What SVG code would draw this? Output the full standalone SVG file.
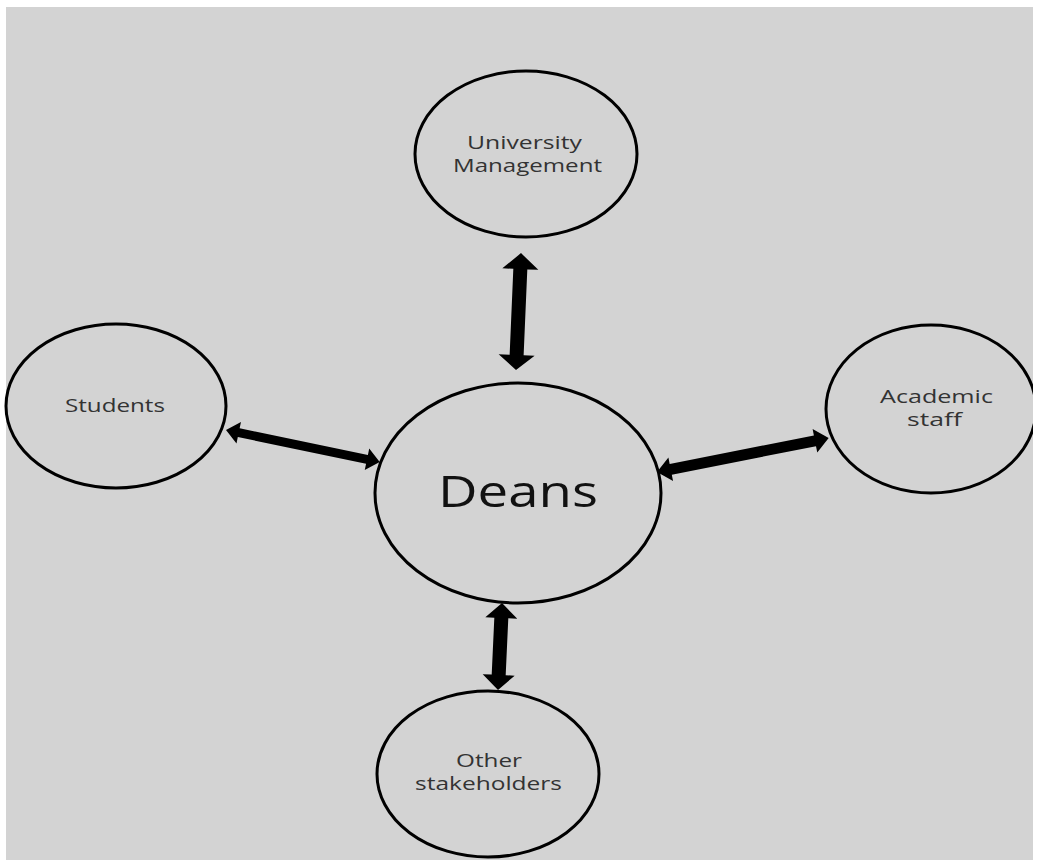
<svg xmlns="http://www.w3.org/2000/svg" width="1039" height="860" viewBox="0 0 1039 860">
  <style>
    .node ellipse { fill: none; stroke: #000; stroke-width: 3; }
    .lbl { font-family: "Open Sans", "Liberation Sans", sans-serif; font-size: 18px; fill: #333; }
    .big { font-family: "Open Sans", "Liberation Sans", sans-serif; font-size: 43px; fill: #111; }
    .arrow { fill: #000; }
  </style>
  <defs>
    <clipPath id="page">
      <rect x="6" y="7" width="1027" height="853"/>
    </clipPath>
  </defs>
  <rect x="0" y="0" width="1039" height="860" fill="#fff"/>
  <rect x="6" y="7" width="1027" height="853" fill="#d3d3d3"/>

  <g id="connectors">
    <polygon class="arrow" transform="translate(516,370) rotate(-87.55)" points="0,0 15,-18 15,-7 101,-7 101,-18 117,0 101,18 101,7 15,7 15,18"/>
    <polygon class="arrow" transform="translate(226,430) rotate(11.74)" points="0,0 13,-11 13,-4.5 144,-4.5 144,-11 157,0 144,11 144,4.5 13,4.5 13,11"/>
    <polygon class="arrow" transform="translate(657,472) rotate(-11.18)" points="0,0 14,-12 14,-5.5 161,-5.5 161,-12 175,0 161,12 161,5.5 14,5.5 14,12"/>
    <polygon class="arrow" transform="translate(502,603) rotate(92.63)" points="0,0 15,-16 15,-7 72,-7 72,-16 87,0 72,16 72,7 15,7 15,16"/>
  </g>

  <g id="university-management" class="node">
    <ellipse cx="526" cy="154" rx="111" ry="83"/>
    <text class="lbl" x="467" y="149" textLength="115" lengthAdjust="spacingAndGlyphs">University</text>
    <text class="lbl" x="453" y="172" textLength="149" lengthAdjust="spacingAndGlyphs">Management</text>
  </g>

  <g id="students" class="node">
    <ellipse cx="116" cy="406" rx="110" ry="82"/>
    <text class="lbl" x="65" y="412" textLength="100" lengthAdjust="spacingAndGlyphs">Students</text>
  </g>

  <g id="deans" class="node">
    <ellipse cx="518" cy="493" rx="143" ry="110"/>
    <text class="big" x="438" y="507" textLength="160" lengthAdjust="spacingAndGlyphs">Deans</text>
  </g>

  <g id="academic-staff" class="node" clip-path="url(#page)">
    <ellipse cx="931" cy="409" rx="105" ry="84"/>
    <text class="lbl" x="880" y="403" textLength="113" lengthAdjust="spacingAndGlyphs">Academic</text>
    <text class="lbl" x="907" y="426" textLength="55" lengthAdjust="spacingAndGlyphs">staff</text>
  </g>

  <g id="other-stakeholders" class="node">
    <ellipse cx="488" cy="774" rx="111" ry="83"/>
    <text class="lbl" x="456" y="767" textLength="66" lengthAdjust="spacingAndGlyphs">Other</text>
    <text class="lbl" x="415" y="790" textLength="147" lengthAdjust="spacingAndGlyphs">stakeholders</text>
  </g>
</svg>
